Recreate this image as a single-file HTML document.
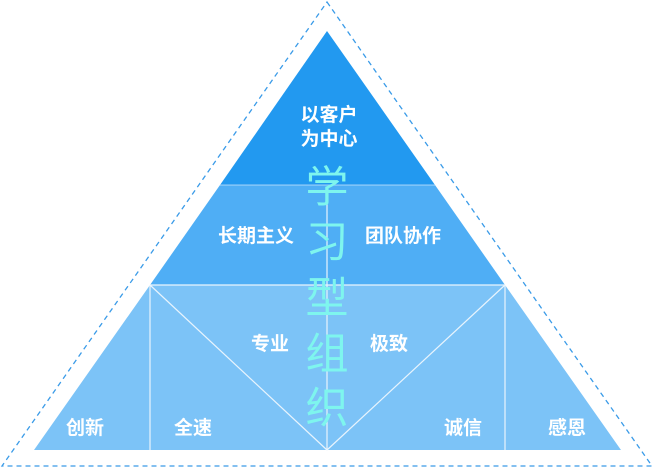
<!DOCTYPE html>
<html><head><meta charset="utf-8"><style>
html,body{margin:0;padding:0;background:#fff;width:654px;height:468px;overflow:hidden}
svg text{font-family:"Liberation Sans","Noto Sans CJK SC",sans-serif}
</style></head><body>
<svg width="654" height="468" viewBox="0 0 654 468" xmlns="http://www.w3.org/2000/svg">
<polygon points="327,2 652,466 2,466" fill="none" stroke="#3a9be8" stroke-width="1.3" stroke-dasharray="5,4"/>
<polygon points="327,31 435,185 220,185" fill="#2299f0"/>
<polygon points="220,185 435,185 505,285 150,285" fill="#4faef5"/>
<polygon points="150,285 505,285 621,450 34,450" fill="#7cc3f7"/>
<g stroke="#e8f4fd" stroke-width="1.2" fill="none">
<line x1="220" y1="185" x2="435" y2="185" stroke-opacity="0.5"/>
<line x1="150" y1="285" x2="505" y2="285"/>
<line x1="150" y1="285" x2="150" y2="450"/>
<line x1="505" y1="285" x2="505" y2="450"/>
<line x1="327" y1="200" x2="327" y2="450"/>
<line x1="150" y1="285" x2="327" y2="450"/>
<line x1="505" y1="285" x2="327" y2="450"/>
</g>
<g fill="#fff" font-size="19" font-weight="bold" text-anchor="middle">
<text x="329" y="121">以客户</text>
<text x="329" y="145">为中心</text>
<text x="256" y="242">长期主义</text>
<text x="403" y="242">团队协作</text>
<text x="270" y="350">专业</text>
<text x="389" y="350">极致</text>
<text x="85" y="434">创新</text>
<text x="193" y="434">全速</text>
<text x="463" y="434">诚信</text>
<text x="567" y="434">感恩</text>
</g>
<g fill="#7ef5ee" font-size="43" text-anchor="middle">
<text x="327" y="202">学</text>
<text x="327" y="257">习</text>
<text x="327" y="313">型</text>
<text x="327" y="369">组</text>
<text x="327" y="423">织</text>
</g>
</svg>
</body></html>
